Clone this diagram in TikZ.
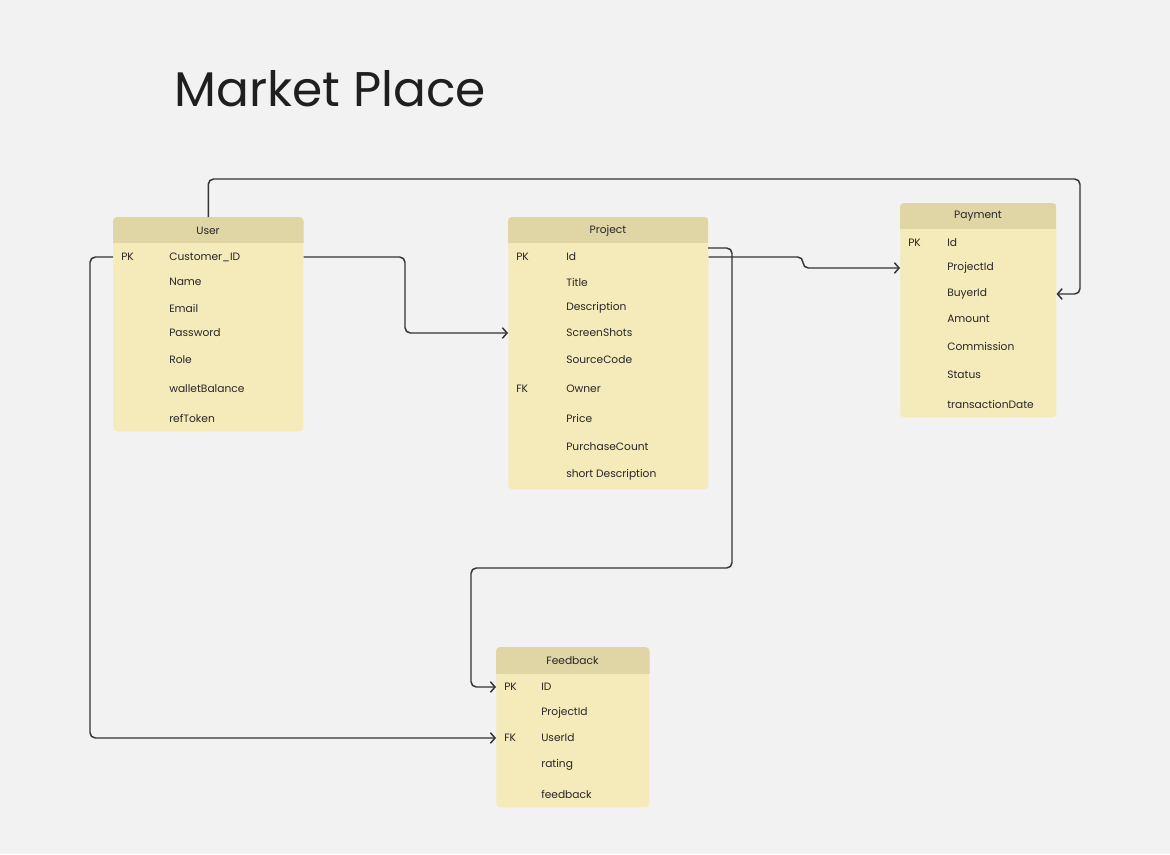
\documentclass[tikz,border=0pt]{standalone}
\usepackage{fontspec}
\setmainfont{Poppins}
\usetikzlibrary{arrows.meta}
\definecolor{bgc}{HTML}{F2F2F2}
\definecolor{hdrc}{HTML}{E0D5A5}
\definecolor{bodyc}{HTML}{F5EAB9}
\definecolor{txtc}{HTML}{262626}
\definecolor{linec}{HTML}{333333}
\tikzset{
  tbl/.style={fill=bodyc, rounded corners=3pt, draw=none, inner sep=0pt, anchor=north west},
  hdr/.style={fill=hdrc},
  htext/.style={font=\fontsize{8pt}{10pt}\selectfont, text=txtc, inner sep=0pt},
  ftext/.style={font=\fontsize{8pt}{10pt}\selectfont, text=txtc, inner sep=0pt, anchor=west},
  conn/.style={draw=linec, line width=1.1pt, rounded corners=4pt},
  arr/.style={-{Straight Barb[length=3.5pt,width=8pt,line width=1.1pt]}},
}
\begin{document}
\begin{tikzpicture}[x=0.75pt,y=-0.75pt]
\fill[bgc] (0,0) rectangle (1170,854);
\useasboundingbox (0,0) rectangle (1170,854);

\node[anchor=west, inner sep=0pt, font=\fontsize{36.5pt}{42pt}\selectfont, text=black!88] (title) at (174,89) {Market Place};

% User table
\node[tbl, minimum width=142.5pt, minimum height=160.5pt] (user) at (113,217) {};
\begin{scope}
\clip[rounded corners=3pt] (user.north west) rectangle (user.south east);
\fill[hdr] (user.north west) rectangle ([yshift=-19.5pt]user.north east);
\end{scope}
\node[htext] (userT) at (208,230.5) {User};
\node[ftext] (uk1) at (121,257) {PK};
\node[ftext] (u1) at (169,257) {Customer\_ID};
\node[ftext] (u2) at (169,282) {Name};
\node[ftext] (u3) at (169,308) {Email};
\node[ftext] (u4) at (169,333) {Password};
\node[ftext] (u5) at (169,360) {Role};
\node[ftext] (u6) at (169,389) {walletBalance};
\node[ftext] (u7) at (169,418) {refToken};

% Project table
\node[tbl, minimum width=150pt, minimum height=204pt] (proj) at (508,217) {};
\begin{scope}
\clip[rounded corners=3pt] (proj.north west) rectangle (proj.south east);
\fill[hdr] (proj.north west) rectangle ([yshift=-19.5pt]proj.north east);
\end{scope}
\node[htext] (projT) at (608,230.5) {Project};
\node[ftext] (pk1) at (516,257) {PK};
\node[ftext] (r1) at (566,257) {Id};
\node[ftext] (r2) at (566,282) {Title};
\node[ftext] (r3) at (566,308) {Description};
\node[ftext] (r4) at (566,333) {ScreenShots};
\node[ftext] (r5) at (566,360) {SourceCode};
\node[ftext] (pk6) at (516,389) {FK};
\node[ftext] (r6) at (566,389) {Owner};
\node[ftext] (r7) at (566,418) {Price};
\node[ftext] (r8) at (566,447) {PurchaseCount};
\node[ftext] (r9) at (566,475) {short Description};

% Payment table
\node[tbl, minimum width=117pt, minimum height=160.5pt] (pay) at (900,203) {};
\begin{scope}
\clip[rounded corners=3pt] (pay.north west) rectangle (pay.south east);
\fill[hdr] (pay.north west) rectangle ([yshift=-19.5pt]pay.north east);
\end{scope}
\node[htext] (payT) at (978,216.5) {Payment};
\node[ftext] (yk1) at (908,243) {PK};
\node[ftext] (p1) at (947,243) {Id};
\node[ftext] (p2) at (947,268) {ProjectId};
\node[ftext] (p3) at (947,294) {BuyerId};
\node[ftext] (p4) at (947,319) {Amount};
\node[ftext] (p5) at (947,346) {Commission};
\node[ftext] (p6) at (947,375) {Status};
\node[ftext] (p7) at (947,404) {transactionDate};

% Feedback table
\node[tbl, minimum width=114.75pt, minimum height=120pt] (fb) at (496,647) {};
\begin{scope}
\clip[rounded corners=3pt] (fb.north west) rectangle (fb.south east);
\fill[hdr] (fb.north west) rectangle ([yshift=-20pt]fb.north east);
\end{scope}
\node[htext] (fbT) at (572.5,661) {Feedback};
\node[ftext] (fk1) at (504,687) {PK};
\node[ftext] (f1) at (541,687) {ID};
\node[ftext] (f2) at (541,713) {ProjectId};
\node[ftext] (fk3) at (504,738) {FK};
\node[ftext] (f3) at (541,738) {UserId};
\node[ftext] (f4) at (541,765) {rating};
\node[ftext] (f5) at (541,794) {feedback};

% connectors
\coordinate (top1) at (1080,179);
\draw[conn,arr] (user.north) |- (top1) |- (pay.east |- p3);

\coordinate (b2) at (405,257);
\draw[conn,arr] (user.east |- u1) -- (b2) |- (proj.west |- r4);

\coordinate (b3) at (90,257);
\draw[conn,arr] (user.west |- u1) -- (b3) |- (fb.west |- f3);

\coordinate (b4) at (803,257);
\draw[conn,arr] (proj.east |- r1) -- (b4) |- (pay.west |- p2);

\coordinate (s5) at (708,248);
\coordinate (b5) at (732,248);
\coordinate (c5) at (471,568);
\draw[conn,arr] (s5) -- (b5) |- (c5) |- (fb.west |- f1);
\end{tikzpicture}
\end{document}
